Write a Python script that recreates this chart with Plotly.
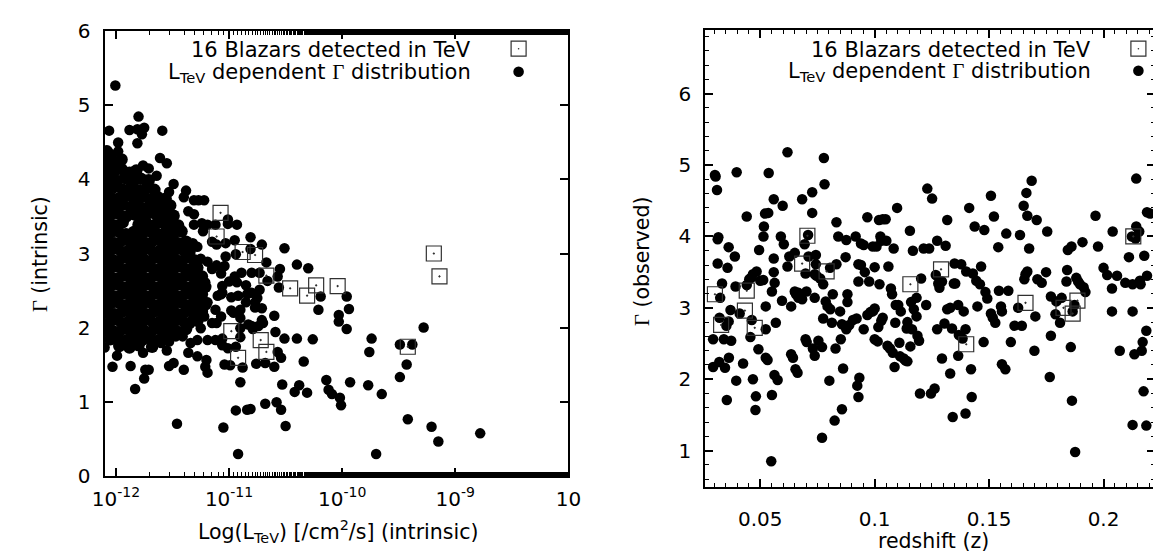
import plotly.graph_objects as go

# ---------------- LEFT PANEL DATA (log10 L_TeV, Gamma intrinsic) ----------------
core_logL = [
 -12.08,-12.05,
 -12.07,-12.01,-11.95,
 -12.08,-12.02,-11.95,-11.88,-11.82,
 -12.05,-11.99,-11.92,-11.85,-11.78,-11.71,
 -12.08,-12.01,-11.94,-11.87,-11.80,-11.73,-11.66,
 -12.05,-11.98,-11.91,-11.84,-11.77,-11.70,-11.63,-11.56,
 -12.08,-12.01,-11.94,-11.87,-11.80,-11.73,-11.66,-11.59,-11.52,
 -12.05,-11.98,-11.91,-11.84,-11.77,-11.70,-11.63,-11.56,-11.49,
 -12.08,-12.01,-11.94,-11.80,-11.73,-11.66,-11.59,-11.52,-11.45,
 -12.05,-11.98,-11.91,-11.84,-11.77,-11.70,-11.63,-11.56,-11.49,-11.42,
 -12.08,-12.01,-11.94,-11.87,-11.80,-11.73,-11.66,-11.59,-11.52,-11.45,-11.38,
 -12.05,-11.98,-11.91,-11.84,-11.77,-11.70,-11.63,-11.56,-11.49,-11.42,-11.35,
 -12.08,-12.01,-11.94,-11.87,-11.80,-11.73,-11.66,-11.59,-11.52,-11.45,-11.38,-11.31,
 -12.05,-11.98,-11.91,-11.84,-11.77,-11.70,-11.63,-11.56,-11.49,-11.42,-11.35,-11.28,
 -12.08,-12.01,-11.94,-11.87,-11.80,-11.73,-11.66,-11.59,-11.52,-11.45,-11.38,-11.31,-11.24,
 -12.05,-11.98,-11.91,-11.84,-11.77,-11.70,-11.63,-11.56,-11.49,-11.42,-11.35,-11.28,-11.21,
 -12.08,-12.01,-11.94,-11.87,-11.80,-11.73,-11.66,-11.59,-11.52,-11.45,-11.38,-11.31,-11.24,
 -12.05,-11.98,-11.91,-11.84,-11.77,-11.70,-11.63,-11.56,-11.49,-11.42,-11.35,-11.28,-11.21,
 -12.08,-12.01,-11.94,-11.87,-11.80,-11.73,-11.66,-11.59,-11.52,-11.45,-11.38,-11.31,-11.24,
 -12.05,-11.98,-11.91,-11.84,-11.77,-11.70,-11.63,-11.56,-11.49,-11.42,-11.35,-11.28,
 -12.08,-12.01,-11.94,-11.87,-11.80,-11.73,-11.66,-11.59,-11.52,-11.45,-11.38,
 -12.05,-11.98,-11.91,-11.84,-11.77,-11.70,-11.63,-11.56,
 -11.97,-11.88,-11.80,-11.68,
]
core_gamma = [
 4.38,4.33,
 4.25,4.22,4.27,
 4.12,4.10,4.14,4.09,4.12,
 4.00,3.98,4.02,3.97,4.01,3.99,
 3.88,3.90,3.86,3.89,3.85,3.88,3.86,
 3.76,3.74,3.78,3.75,3.77,3.73,3.76,3.74,
 3.64,3.62,3.66,3.63,3.65,3.61,3.64,3.62,3.65,
 3.52,3.54,3.50,3.53,3.51,3.55,3.50,3.53,3.51,
 3.40,3.38,3.42,3.39,3.41,3.38,3.42,3.40,3.38,
 3.28,3.30,3.26,3.29,3.27,3.30,3.26,3.29,3.27,3.30,
 3.16,3.14,3.18,3.15,3.17,3.14,3.18,3.15,3.17,3.14,3.16,
 3.04,3.06,3.02,3.05,3.03,3.06,3.02,3.05,3.03,3.06,3.02,
 2.92,2.90,2.94,2.91,2.93,2.90,2.94,2.91,2.93,2.90,2.94,2.91,
 2.80,2.82,2.78,2.81,2.79,2.82,2.78,2.81,2.79,2.82,2.78,2.81,
 2.68,2.66,2.70,2.67,2.69,2.66,2.70,2.67,2.69,2.66,2.70,2.67,2.69,
 2.56,2.58,2.54,2.57,2.55,2.58,2.54,2.57,2.55,2.58,2.54,2.57,2.55,
 2.44,2.42,2.46,2.43,2.45,2.42,2.46,2.43,2.45,2.42,2.46,2.43,2.45,
 2.32,2.34,2.30,2.33,2.31,2.34,2.30,2.33,2.31,2.34,2.30,2.33,2.31,
 2.20,2.18,2.22,2.19,2.21,2.18,2.22,2.19,2.21,2.18,2.22,2.19,2.21,
 2.08,2.10,2.06,2.09,2.07,2.10,2.06,2.09,2.07,2.10,2.06,2.09,
 1.96,1.94,1.98,1.95,1.97,1.94,1.98,1.95,1.97,1.94,1.98,
 1.84,1.86,1.82,1.85,1.83,1.86,1.82,1.85,
 1.75,1.73,1.76,1.74,
]

scatter_logL = [
 -12.005,-12.06,-11.98,-11.98,-11.88,-11.80,-11.81,-11.75,-11.77,-11.81,-11.59,-11.61,-11.55,-11.76,-11.71,-11.64,-11.86,-12.02,
 -11.49,-11.53,-11.38,-11.40,-11.31,-11.27,-11.22,-11.36,-11.31,-11.24,
 -11.01,-11.01,-10.81,-10.71,-10.51,-10.40,-10.30,-11.11,-11.03,-10.94,-10.81,-11.03,-11.04,-10.67,-10.55,-10.89,-10.80,-10.73,
 -10.57,-10.66,-10.56,-10.73,-10.95,-11.00,-11.06,-11.07,-10.98,-10.92,-10.84,-10.77,-10.71,-10.60,-10.98,-10.90,-10.83,-10.71,
 -10.79,-10.70,-10.90,-11.06,-11.01,-10.94,-11.04,-10.99,-10.88,-10.76,-10.68,-10.60,-10.57,-10.54,-10.51,-10.59,-10.40,-10.26,
 -10.34,-10.90,-10.53,-10.42,-10.38,-10.31,-10.14,-10.12,-10.09,-10.02,-10.01,-9.93,-9.77,-9.65,-9.74,-9.76,-9.49,-9.38,-9.43,
 -9.49,-9.28,-9.42,-9.21,-9.15,-8.78,-9.70,-10.92,-11.05,-10.94,-10.84,-10.81,-10.68,-10.58,-10.54,-10.50,-11.46,-10.21,-10.19,
 -9.96,-9.94,-10.03,-10.03,-9.96,
 -11.83,-12.03,-11.87,-11.75,-11.74,-11.71,-12.10,-11.53,-11.49,-11.40,-11.36,-11.28,-11.21,-11.19,-11.99,-11.76,-11.55,-11.20,
 -11.25,-11.28,-11.32,-11.19,-11.15,-11.21,-11.25,-11.31,-11.22,-11.15,-11.11,-11.25,-11.19,-11.12,-11.06,-11.28,-11.34,-11.41,
 -11.47,-11.53,-11.60,-11.66,-11.73,
 -11.11,-11.07,-11.10,-11.06,-11.12,-11.19,-11.07,-10.96,-10.90,-10.85,-10.77,-10.85,-10.93,-10.80,-10.75,-10.90,-10.80,-10.74,
 -10.93,-10.95,-11.19,-11.12,-11.23,-11.31,-11.15,
]
scatter_gamma = [
 5.27,4.66,4.50,4.38,4.67,4.85,4.68,4.70,4.61,4.49,4.66,4.29,4.22,4.19,4.15,4.05,4.10,4.26,
 3.94,3.83,3.85,3.76,3.72,3.72,3.72,3.57,3.53,3.41,
 3.46,3.40,3.22,3.12,3.07,2.85,2.80,3.12,3.14,2.99,3.06,2.96,2.83,2.88,2.79,2.74,2.74,2.74,
 2.69,2.63,2.54,2.51,2.69,2.62,2.56,2.45,2.41,2.43,2.45,2.34,2.26,2.16,2.23,2.13,2.04,2.10,
 1.98,2.06,1.87,1.85,1.72,1.74,1.50,1.49,1.46,1.51,1.52,1.47,1.67,1.59,1.85,1.94,1.85,1.84,
 1.54,1.26,1.23,1.13,1.22,1.12,1.29,1.16,1.10,1.05,0.95,1.26,1.22,1.10,1.85,1.67,1.77,1.77,1.50,
 1.33,2.00,0.76,0.66,0.46,0.57,0.29,0.29,0.65,0.88,0.89,0.90,0.97,0.99,0.89,0.67,0.70,2.24,2.42,
 2.42,2.25,2.17,2.08,1.98,
 1.17,1.47,1.48,1.31,1.43,1.43,1.73,1.48,1.52,1.43,1.66,1.61,1.47,1.39,1.62,1.66,1.69,1.56,
 2.93,3.09,3.14,2.89,2.79,2.61,2.47,2.38,2.15,2.06,2.06,1.99,1.83,1.83,1.76,1.83,1.79,1.88,
 1.88,1.81,1.79,1.81,1.85,
 2.84,2.73,2.43,2.47,2.24,2.34,2.15,2.20,2.24,2.34,2.27,2.57,2.61,2.47,2.40,1.99,2.02,2.02,
 3.39,3.18,3.39,3.39,3.30,3.39,3.16,
]

tev_logL = [-11.075,-11.11,-10.88,-10.77,-10.67,-10.46,-10.31,-10.23,-10.04,-10.98,-10.72,-10.67,-10.92,-9.42,-9.19,-9.14]
tev_gamma_int = [3.55,3.23,3.02,2.98,2.70,2.53,2.43,2.57,2.56,1.95,1.83,1.67,1.59,1.74,3.00,2.69]

left_xtick_vals = [1e-12, 1e-11, 1e-10, 1e-9, 1e-8]
left_xtick_text = ["10<sup>-12</sup>", "10<sup>-11</sup>", "10<sup>-10</sup>", "10<sup>-9</sup>", "10"]

# ---------------- RIGHT PANEL DATA (redshift, Gamma observed) ----------------
z_sim = [
 0.0302,0.0305,0.0311,0.0317,0.0314,0.0314,0.0333,0.0325,0.0322,0.0294,0.0294,0.0321,0.0346,0.0354,0.0341,0.0373,0.0352,0.0362,
 0.0370,0.0357,0.0362,0.0389,0.0392,0.0410,0.0395,0.0397,0.0363,
 0.0441,0.0425,0.0441,0.0452,0.0460,0.0468,0.0484,0.0463,0.0457,0.0468,0.0481,0.0479,0.0492,0.0495,0.0500,0.0513,0.0516,0.0514,
 0.0524,0.0524,0.0524,0.0532,0.0535,0.0521,0.0537,0.0551,0.0551,0.0559,0.0559,0.0559,0.0563,0.0568,0.0562,0.0576,0.0548,0.0590,
 0.0598,0.0603,0.0595,0.0619,0.0627,0.0635,0.0635,0.0643,0.0619,0.0651,0.0651,0.0656,0.0667,0.0663,0.0654,0.0667,
 0.0683,0.0694,0.0698,0.0702,0.0683,0.0711,0.0698,0.0703,0.0727,0.0727,0.0730,0.0738,0.0743,0.0743,0.0738,0.0738,0.0746,0.0762,
 0.0754,0.0770,0.0770,0.0778,0.0781,0.0775,0.0786,0.0794,0.0775,0.0802,0.0806,0.0805,0.0817,0.0825,0.0829,0.0833,0.0833,0.0841,
 0.0813,0.0849,0.0852,0.0857,0.0862,0.0857,0.0873,0.0876,0.0876,0.0881,0.0881,0.0889,0.0709,
 0.0905,0.0917,0.0921,0.0924,0.0929,0.0933,0.0929,0.0940,0.0929,0.0940,0.0952,0.0952,0.0957,0.0968,0.0968,0.0976,0.0981,0.0992,
 0.1000,0.0992,0.1000,0.1008,0.1000,0.1013,0.1019,0.1025,0.1029,0.1035,0.1048,0.1021,0.1029,0.1016,0.1035,0.1051,0.1056,0.1060,
 0.1067,0.1071,0.1076,0.1083,0.1087,0.1079,0.1090,0.1092,0.1098,0.1103,0.1108,0.1111,0.1127,0.1135,
 0.1114,0.1143,0.1154,0.1167,0.1159,0.1143,0.1140,0.1156,0.1163,0.1171,0.1183,0.1183,0.1187,0.1194,0.1198,0.1203,0.1214,0.1225,
 0.1230,0.1238,0.1251,0.1246,0.1262,0.1267,0.1273,0.1273,0.1278,0.1283,0.1294,0.1294,0.1305,0.1310,0.1317,0.1317,0.1330,0.1330,
 0.1338,0.1341,
 0.1346,0.1352,0.1349,0.1365,0.1365,0.1368,0.1378,0.1384,0.1389,0.1397,0.1397,0.1400,0.1413,0.1421,0.1424,0.1429,0.1437,0.1444,
 0.1449,0.1460,0.1465,0.1476,0.1479,0.1484,0.1492,0.1508,0.1508,0.1516,0.1521,0.1527,0.1540,0.1543,0.1552,0.1556,0.1556,0.1571,
 0.1575,0.1584,0.1595,
 0.1611,0.1627,0.1635,0.1643,0.1651,0.1659,0.1663,0.1667,0.1675,0.1667,0.1654,0.1686,0.1702,0.1698,0.1708,0.1711,0.1730,0.1749,
 0.1754,0.1765,0.1770,0.1770,0.1794,0.1790,0.1810,0.1817,
 0.1841,0.1838,0.1844,0.1860,0.1865,0.1857,0.1862,0.1876,0.1873,0.1881,0.1889,0.1897,0.1908,0.1913,0.1921,0.1965,0.1976,
 0.2000,0.2016,0.2040,0.2037,0.2037,0.2059,0.2071,0.2095,0.2111,0.2127,0.2127,0.2135,0.2143,0.2143,0.2140,0.2156,0.2162,0.2167,
 0.2171,0.2175,0.2127,0.2187,0.2178,0.2187,0.2190,0.2190,0.2203,0.2159,0.2124,
]
gamma_obs_sim = [
 4.86,4.84,4.65,3.99,3.96,3.62,3.34,3.14,2.86,2.56,2.17,2.24,2.16,1.71,2.56,2.54,2.75,2.81,
 2.97,3.56,3.85,3.72,3.30,2.92,1.98,4.90,2.30,
 4.28,2.22,3.32,3.40,3.42,3.47,3.51,2.83,2.59,2.00,1.76,1.57,2.42,3.81,3.38,3.39,4.14,4.00,
 3.02,2.70,2.30,2.27,4.33,4.32,4.89,1.78,3.23,3.50,3.69,4.52,3.35,2.79,2.06,1.99,0.85,4.00,
 4.43,3.89,3.10,3.58,3.72,3.02,2.35,2.30,5.18,3.77,3.23,3.19,3.21,2.09,2.14,3.14,
 4.52,3.89,3.48,3.23,3.12,3.72,2.56,2.52,4.33,4.62,2.43,2.33,3.61,3.74,3.47,3.14,3.45,3.41,
 2.54,2.45,1.18,5.10,4.73,3.33,3.09,3.02,2.85,1.98,2.98,3.56,3.19,1.42,2.43,4.20,3.61,4.00,
 2.79,2.95,2.56,1.58,2.15,2.77,3.71,3.95,2.70,3.19,3.08,2.76,4.02,
 2.83,4.00,2.85,1.91,1.75,2.02,3.61,3.60,3.37,3.90,3.88,2.70,3.50,4.27,2.90,3.37,2.94,2.95,
 2.99,3.86,3.57,3.86,2.56,2.53,4.23,4.00,3.94,4.24,4.24,3.33,2.82,2.73,2.86,3.94,2.47,3.58,
 2.43,3.27,3.19,3.83,2.17,2.37,2.79,3.04,4.40,3.04,2.51,2.32,2.29,2.26,
 2.95,2.25,4.08,3.80,3.08,2.80,2.71,2.46,2.70,2.98,3.14,2.88,2.61,2.54,1.80,3.41,3.83,3.04,
 4.67,3.83,4.53,1.80,1.87,3.46,2.70,3.94,3.34,3.28,3.37,2.29,2.78,3.87,4.23,2.98,3.00,2.08,
 2.71,1.47,
 3.34,3.34,3.62,2.33,3.04,2.62,3.61,2.57,2.95,1.52,2.70,3.51,4.40,2.14,1.75,3.48,4.14,3.38,
 3.02,3.33,3.58,2.52,4.09,3.22,3.13,4.57,2.92,2.86,4.28,2.79,3.85,3.24,3.02,2.95,2.21,2.14,
 4.04,3.24,2.52,
 2.75,3.00,4.02,2.75,4.43,3.47,4.61,4.29,3.83,3.51,3.40,4.78,2.88,2.40,4.23,3.40,3.35,3.50,
 4.07,2.03,2.61,3.16,3.09,2.91,2.79,3.14,
 3.53,3.37,3.81,3.86,2.95,2.45,1.70,0.98,3.04,3.42,3.37,3.33,3.92,3.29,3.22,4.29,3.86,
 3.56,3.46,4.07,3.27,2.95,3.45,2.40,3.35,3.71,2.95,3.33,2.35,4.81,4.14,3.97,4.07,3.33,2.40,
 2.52,1.83,1.36,1.35,3.73,2.68,3.45,4.34,4.32,3.38,4.00,
]

tev_z = [0.0302,0.0329,0.0441,0.0433,0.0476,0.0706,0.0683,0.0790,0.1156,0.1290,0.1400,0.1659,0.1825,0.1865,0.1886,0.2130]
tev_gamma_obs = [3.19,2.76,3.24,2.96,2.72,4.01,3.62,3.51,3.33,3.54,2.49,3.07,3.00,2.92,3.10,4.00]

legend_labels = ["16 Blazars detected in TeV",
                 "L<sub>TeV</sub> dependent <span style=\"font-family:'Liberation Serif'\">Γ</span> distribution"]

# ---------------- FIGURE ----------------
W, H = 1161, 558
FONT = "DejaVu Sans, Liberation Sans, sans-serif"
G = "<span style=\"font-family:'Liberation Serif'\">Γ</span>"

def px(x):
    return x / W

def py(y):
    return 1 - y / H

fig = go.Figure()
dot = dict(symbol="circle", size=10.5, color="black", line=dict(width=0))
sq = dict(symbol="square-open-dot", size=15, color="#303030", line=dict(width=1.2, color="#303030"))

fig.add_trace(go.Scatter(x=[10 ** v for v in core_logL], y=core_gamma,
                         mode="markers", marker=dict(dot, size=12.5), xaxis="x", yaxis="y", showlegend=False))
fig.add_trace(go.Scatter(x=[10 ** v for v in scatter_logL], y=scatter_gamma,
                         mode="markers", marker=dot, xaxis="x", yaxis="y", showlegend=False))
fig.add_trace(go.Scatter(x=[10 ** v for v in tev_logL], y=tev_gamma_int,
                         mode="markers", marker=sq, xaxis="x", yaxis="y", showlegend=False))
fig.add_trace(go.Scatter(x=z_sim, y=gamma_obs_sim, mode="markers", marker=dot,
                         xaxis="x2", yaxis="y2", showlegend=False))
fig.add_trace(go.Scatter(x=tev_z, y=tev_gamma_obs, mode="markers", marker=sq,
                         xaxis="x2", yaxis="y2", showlegend=False))

axis_common = dict(showline=True, linecolor="black", linewidth=2, mirror="ticks",
                   ticks="inside", ticklen=8, tickwidth=1.5, tickcolor="black",
                   showgrid=False, zeroline=False,
                   tickfont=dict(family=FONT, size=20, color="black"))
minor_common = dict(ticks="inside", ticklen=4, tickcolor="black", tickwidth=1.2, showgrid=False)

fig.update_layout(
    width=W, height=H, margin=dict(l=0, r=0, t=0, b=0),
    paper_bgcolor="white", plot_bgcolor="white",
    xaxis=dict(axis_common, type="log", domain=[px(85.5), px(560)], range=[-12.1, -8.0],
               tickvals=left_xtick_vals, ticktext=left_xtick_text, ticklabelstandoff=4,
               minor=minor_common, anchor="y"),
    yaxis=dict(axis_common, domain=[py(476), py(12)], range=[0, 6], dtick=1, anchor="x",
               ticklabelstandoff=8),
    xaxis2=dict(axis_common, domain=[px(700), px(1160)], range=[0.026, 0.2225], tick0=0, dtick=0.05,
                minor=dict(minor_common, dtick=0.005), ticklabelstandoff=13, anchor="y2"),
    yaxis2=dict(axis_common, domain=[py(488), py(10.6)], range=[0.49, 6.89], tick0=0, dtick=1,
                minor=dict(minor_common, dtick=0.2), ticklabelstandoff=8, anchor="x2"),
)

title_font = dict(family=FONT, size=20.5, color="black")
leg_font = dict(family=FONT, size=21, color="black")
annotations = [
    dict(text=f"{G} (intrinsic)", x=px(20), y=py(245), textangle=-90, font=title_font),
    dict(text="Log(L<sub>TeV</sub>) [/cm<sup>2</sup>/s] (intrinsic)", x=px(324), y=py(535), font=title_font),
    dict(text=f"{G} (observed)", x=px(635), y=py(252), textangle=-90, font=title_font),
    dict(text="redshift (z)", x=px(933), y=py(544), font=title_font),
    dict(text=legend_labels[0], x=px(462), y=py(31), xanchor="right", font=leg_font),
    dict(text=legend_labels[1], x=px(462), y=py(55), xanchor="right", font=leg_font),
    dict(text=legend_labels[0], x=px(1097), y=py(31), xanchor="right", font=leg_font),
    dict(text=legend_labels[1], x=px(1097), y=py(54), xanchor="right", font=leg_font),
]
for a in annotations:
    a.setdefault("xanchor", "center")
    a.update(xref="paper", yref="paper", yanchor="middle", showarrow=False)
fig.update_layout(annotations=annotations)

shapes = []
for sx, sy1, sy2 in ((509, 30, 54), (1143, 30, 53)):
    shapes.append(dict(type="rect", xref="paper", yref="paper", xsizemode="pixel", ysizemode="pixel",
                       xanchor=px(sx), yanchor=py(sy1), x0=-7.5, x1=7.5, y0=-7.5, y1=7.5,
                       line=dict(color="#303030", width=1.2), fillcolor="rgba(0,0,0,0)"))
    shapes.append(dict(type="circle", xref="paper", yref="paper", xsizemode="pixel", ysizemode="pixel",
                       xanchor=px(sx), yanchor=py(sy1), x0=-0.8, x1=0.8, y0=-0.8, y1=0.8,
                       line=dict(width=0), fillcolor="#303030"))
    shapes.append(dict(type="circle", xref="paper", yref="paper", xsizemode="pixel", ysizemode="pixel",
                       xanchor=px(sx), yanchor=py(sy2), x0=-5.3, x1=5.3, y0=-5.3, y1=5.3,
                       line=dict(width=0), fillcolor="black"))
fig.update_layout(shapes=shapes)

fig.write_html("out.html")
